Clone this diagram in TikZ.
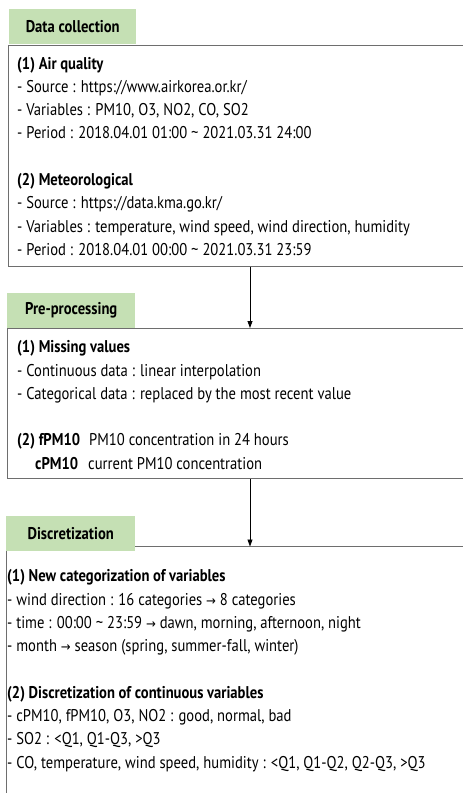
\documentclass[tikz,border=0pt]{standalone}
\usepackage{fontspec}
\setmainfont{PT Sans}[FakeStretch=0.86]
\newfontfamily\arrowfont{DejaVu Sans}[FakeStretch=0.9]
\usetikzlibrary{arrows.meta}

\definecolor{headgreen}{RGB}{197,224,180}
\definecolor{framegray}{RGB}{110,110,110}
\newcommand{\rarr}{{\arrowfont\fontsize{13}{23.3}\selectfont →}}

\tikzset{
    headbox/.style={fill=headgreen, anchor=north west, inner sep=0pt,
        minimum width=127pt, minimum height=35pt,
        font=\bfseries\fontsize{17}{19}\selectfont},
    framebox/.style={draw=framegray, line width=1pt, anchor=north west, inner sep=0pt},
    bodytext/.style={anchor=base west, inner sep=0pt, align=left,
        font=\fontsize{17}{23.3}\selectfont},
}

\begin{document}
\begin{tikzpicture}[x=1pt, y=-1pt]
        \useasboundingbox (0,0) rectangle (463,793);
        \clip (0,0) rectangle (463,793);

        % frames
        \node[framebox, minimum width=470pt, minimum height=221pt] (collect) at (8,44.5) {};
        \node[framebox, minimum width=470pt, minimum height=150pt] (prep) at (7,328) {};
        \node[anchor=north west, inner sep=0pt, minimum width=470pt, minimum height=260pt] (discr) at (6,546.5) {};
        \draw[framegray, line width=1pt] (discr.south west) -- (discr.north west) -- (discr.north east);

        % headers
        \node[headbox] (collecthead) at (9,8.5) {Data collection};
        \node[headbox, minimum width=128pt] (prephead) at (7,293) {Pre-processing};
        \node[headbox, minimum width=129pt] (discrhead) at (6,516) {Discretization};

        % contents (anchored on the last line)
        \node[bodytext] (collecttxt) at (17,255.4) {\textbf{(1) Air quality}\\
            - Source : https://www.airkorea.or.kr/\\
            - Variables : PM10, O3, NO2, CO, SO2\\
            - Period : 2018.04.01 01:00 \textasciitilde{} 2021.03.31 24:00\\[23.3pt]
            \textbf{(2) Meteorological}\\
            - Source : https://data.kma.go.kr/\\
            - Variables : temperature, wind speed, wind direction, humidity\\
            - Period : 2018.04.01 00:00 \textasciitilde{} 2021.03.31 23:59};

        \node[bodytext] (preptxt) at (17,469.2) {\textbf{(1) Missing values}\\
            - Continuous data : linear interpolation\\
            - Categorical data : replaced by the most recent value\\[23.3pt]
            \makebox[72pt][l]{\textbf{(2) fPM10}}PM10 concentration in 24 hours\\
            \hspace*{18pt}\makebox[53pt][l]{\textbf{cPM10}}current PM10 concentration};

        \node[bodytext] (discrtxt) at (7,768.1) {\textbf{(1) New categorization of variables}\\
            - wind direction : 16 categories \rarr{} 8 categories\\
            - time : 00:00 \textasciitilde{} 23:59 \rarr{} dawn, morning, afternoon, night\\
            - month \rarr{} season (spring, summer-fall, winter)\\[23.3pt]
            \textbf{(2) Discretization of continuous variables}\\
            - cPM10, fPM10, O3, NO2 : good, normal, bad\\
            - SO2 : <Q1, Q1-Q3, >Q3\\
            - CO, temperature, wind speed, humidity : <Q1, Q1-Q2, Q2-Q3, >Q3};

        % flow
        \coordinate (flowx) at (250,0);
        \path[-{Triangle[length=7pt, width=5pt]}, line width=0.8pt] (collect.south -| flowx) edge (prep.north -| flowx);
        \path[-{Triangle[length=7pt, width=5pt]}, line width=0.8pt] (prep.south -| flowx) edge (discr.north -| flowx);
    \end{tikzpicture}
\end{document}
